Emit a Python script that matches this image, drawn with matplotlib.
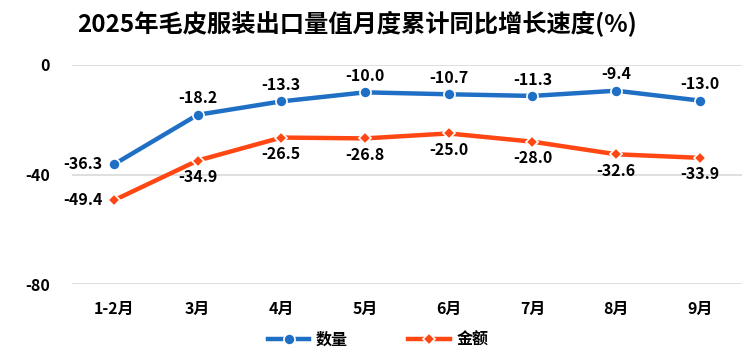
import matplotlib.pyplot as plt

plt.rcParams["font.family"] = ["Noto Sans CJK SC", "DejaVu Sans"]
plt.rcParams["axes.unicode_minus"] = False

months = ["1-2月", "3月", "4月", "5月", "6月", "7月", "8月", "9月"]
quantity = [-36.3, -18.2, -13.3, -10.0, -10.7, -11.3, -9.4, -13.0]
amount = [-49.4, -34.9, -26.5, -26.8, -25.0, -28.0, -32.6, -33.9]

blue = "#1F6FC5"
orange = "#FF4713"

fig = plt.figure(figsize=(7.5, 3.53), dpi=100)
ax = fig.add_axes([0.096, 0.195, 0.893, 0.621])
x = list(range(len(months)))

ax.plot(x, quantity, color=blue, lw=3.2, marker="o", ms=8,
        mfc=blue, mec="white", mew=1.2, label="数量", zorder=3)
ax.plot(x, amount, color=orange, lw=3.2, marker="D", ms=6,
        mfc=orange, mec="white", mew=1.2, label="金额", zorder=3)

for i, v in enumerate(quantity):
    if i == 0:
        ax.annotate(f"{v:.1f}", (i, v), xytext=(-8, 0), textcoords="offset points",
                    ha="right", va="center", fontsize=11.5, fontweight="bold")
    else:
        ax.annotate(f"{v:.1f}", (i, v), xytext=(0, 6), textcoords="offset points",
                    ha="center", va="bottom", fontsize=11.5, fontweight="bold")
for i, v in enumerate(amount):
    if i == 0:
        ax.annotate(f"{v:.1f}", (i, v), xytext=(-8, 0), textcoords="offset points",
                    ha="right", va="center", fontsize=11.5, fontweight="bold")
    else:
        ax.annotate(f"{v:.1f}", (i, v), xytext=(0, -6), textcoords="offset points",
                    ha="center", va="top", fontsize=11.5, fontweight="bold")

ax.set_xlim(-0.5, len(months) - 0.5)
ax.set_ylim(-80, 0)
ax.set_yticks([0, -40, -80])
ax.set_xticks(x)
ax.set_xticklabels(months)
ax.grid(axis="y", color="#D9D9D9", lw=1.2)
ax.set_axisbelow(True)
for s in ax.spines.values():
    s.set_visible(False)
ax.tick_params(length=0, labelsize=11.5, pad=12)
for lab in ax.get_xticklabels() + ax.get_yticklabels():
    lab.set_fontweight("bold")
ax.tick_params(axis="y", pad=16)

fig.suptitle("2025年毛皮服装出口量值月度累计同比增长速度(%)", x=0.476, y=0.97,
             fontsize=17.5, fontweight="bold")
fig.legend(loc="lower center", ncol=2, frameon=False, bbox_to_anchor=(0.504, -0.025),
           prop={"size": 11.5, "weight": "bold"}, handlelength=2.6, handletextpad=0.4,
           columnspacing=3.8)

fig.savefig("out.png", dpi=100)
